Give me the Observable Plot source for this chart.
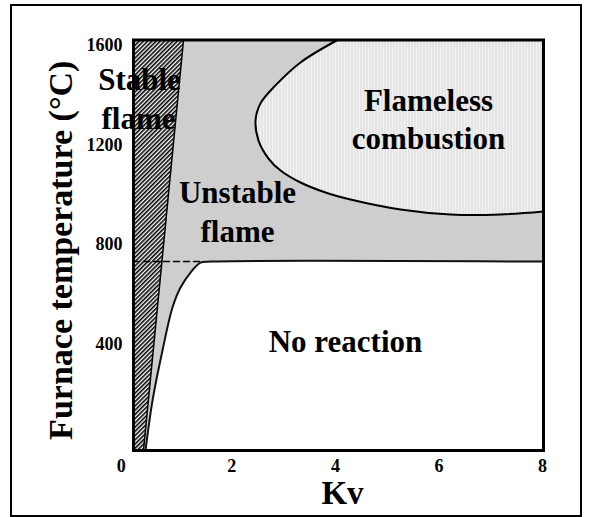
<!DOCTYPE html>
<html><head><meta charset="utf-8">
<script src="https://cdn.jsdelivr.net/npm/d3@7"></script>
<script src="https://cdn.jsdelivr.net/npm/@observablehq/plot@0.6"></script>
<style>
html,body{margin:0;padding:0;background:#fff;}
#wrap{position:relative;width:589px;height:517px;overflow:hidden;}
#border{position:absolute;left:10px;top:4px;width:568px;height:509px;border:2px solid #000;pointer-events:none;}
</style></head><body>
<div id="wrap"><div id="chart"></div><div id="border"></div></div>
<script>
// Axes
const kvDomain = [0.1, 8.02];
const tDomain = [-25, 1620];
const xTicks = [2, 4, 6, 8];
const xZero = [0];
const yTicks = [400, 800, 1200, 1600];

// Stable flame region (hatched wedge)
const stableKv = [0.1, 0.293, 1.066, 0.1];
const stableT = [-25, -25, 1620, 1620];

// No reaction boundary
const noReactKv = [0.332, 0.467, 0.660, 0.853, 1.008, 1.201, 1.394, 1.587, 8.02];
const noReactT = [-25, 175, 376, 548, 628, 688, 728, 732, 732];

// Flameless combustion boundary
const flamelessKv = [4.041, 3.326, 2.843, 2.553, 2.457, 2.515, 2.708, 2.940, 3.326, 3.809, 4.292, 5.257, 6.223, 7.189, 8.02];
const flamelessT = [1620, 1530, 1438, 1366, 1297, 1217, 1145, 1097, 1049, 1009, 981, 941, 921, 921, 933];

// Dashed extension of the 730 °C line
const dashKv = [0.1, 1.394];
const dashT = [732, 732];

// Region labels
const labels = ["Stable", "flame", "Unstable", "flame", "Flameless", "combustion", "No reaction"];
const labelKv = [0.216, 0.197, 2.109, 2.109, 5.798, 5.798, 4.195];
const labelT = [1418, 1265, 965, 809, 1337, 1185, 368];

const zip = (xs, ys) => xs.map((x, i) => ({kv: x, t: ys[i]}));
const stable = zip(stableKv, stableT);
const stableEdge = stable.slice(1, 3);
const noReact = zip(noReactKv, noReactT);
const flameless = zip(flamelessKv, flamelessT);
const flamelessFill = flameless.concat([{kv: kvDomain[1], t: tDomain[1]}]);
const dash = zip(dashKv, dashT);
const labelData = labels.map((s, i) => ({s, kv: labelKv[i], t: labelT[i]}));

const serif = "'Liberation Serif','Times New Roman',serif";

const svg = Plot.plot({
  width: 589, height: 517,
  marginLeft: 133, marginRight: 46, marginTop: 39.5, marginBottom: 67,
  x: {domain: kvDomain, axis: null},
  y: {domain: tDomain, axis: null},
  style: {fontFamily: serif, fontWeight: "bold", color: "#000", background: "transparent", overflow: "visible"},
  marks: [
    Plot.frame({fill: "url(#unstable)", stroke: "none"}),
    Plot.line(flamelessFill, {x: "kv", y: "t", fill: "url(#flameless)", stroke: "none"}),
    Plot.areaY(noReact, {x: "kv", y1: d => tDomain[0], y2: "t", fill: "#fff"}),
    Plot.line(stable, {x: "kv", y: "t", fill: "url(#hatch)", stroke: "none"}),
    Plot.line(stableEdge, {x: "kv", y: "t", stroke: "#000", strokeWidth: 1.5}),
    Plot.line(flameless, {x: "kv", y: "t", stroke: "#000", strokeWidth: 2, curve: "catmull-rom"}),
    Plot.line(noReact, {x: "kv", y: "t", stroke: "#111", strokeWidth: 2, curve: "catmull-rom"}),
    Plot.line(dash, {x: "kv", y: "t", stroke: "#000", strokeWidth: 1.5, strokeDasharray: "6,4"}),
    Plot.text(labelData, {x: "kv", y: "t", text: "s", fontSize: 31, fontWeight: "bold", fontFamily: serif, lineAnchor: "bottom", fill: "#000"}),
    Plot.axisX({ticks: xTicks, tickSize: 0, tickPadding: 9, fontSize: 18, fontWeight: "bold", label: null, tickFormat: d => String(d)}),
    Plot.text(xZero, {x: d => d, text: d => String(d), frameAnchor: "bottom", dy: 9, dx: -7, lineAnchor: "top", fontSize: 18, fontWeight: "bold"}),
    Plot.axisY({ticks: yTicks, tickSize: 0, tickPadding: 11, fontSize: 18, fontWeight: "bold", label: null, tickFormat: d => String(d)}),
    Plot.text(["Kv"], {text: d => d, frameAnchor: "bottom", textAnchor: "middle", dy: 53, dx: 4, lineAnchor: "bottom", fontSize: 33, fontWeight: "bold"}),
    Plot.text(["Furnace temperature (°C)"], {text: d => d, frameAnchor: "left", textAnchor: "middle", rotate: -90, dx: -62, dy: 5, lineAnchor: "bottom", fontSize: 34, fontWeight: "bold"}),
    Plot.frame({stroke: "#000", strokeWidth: 3})
  ]
});

d3.select(svg).insert("defs", ":first-child").html(`
<pattern id="hatch" width="3" height="3" patternUnits="userSpaceOnUse" patternTransform="rotate(45)">
  <rect width="3" height="3" fill="#fff"/>
  <line x1="0.8" y1="0" x2="0.8" y2="3" stroke="#000" stroke-width="1.6"/>
</pattern>
<pattern id="unstable" width="2" height="2" patternUnits="userSpaceOnUse">
  <rect width="2" height="2" fill="#ececec"/>
  <rect x="0" y="0" width="1" height="1" fill="#b0b0b0"/>
  <rect x="1" y="1" width="1" height="1" fill="#b0b0b0"/>
</pattern>
<pattern id="flameless" width="3" height="3" patternUnits="userSpaceOnUse">
  <rect width="3" height="3" fill="#f1f1f1"/>
  <rect x="0" y="0" width="1" height="3" fill="#d9d9d9"/>
</pattern>`);

document.getElementById("chart").appendChild(svg);
</script>
</body></html>
